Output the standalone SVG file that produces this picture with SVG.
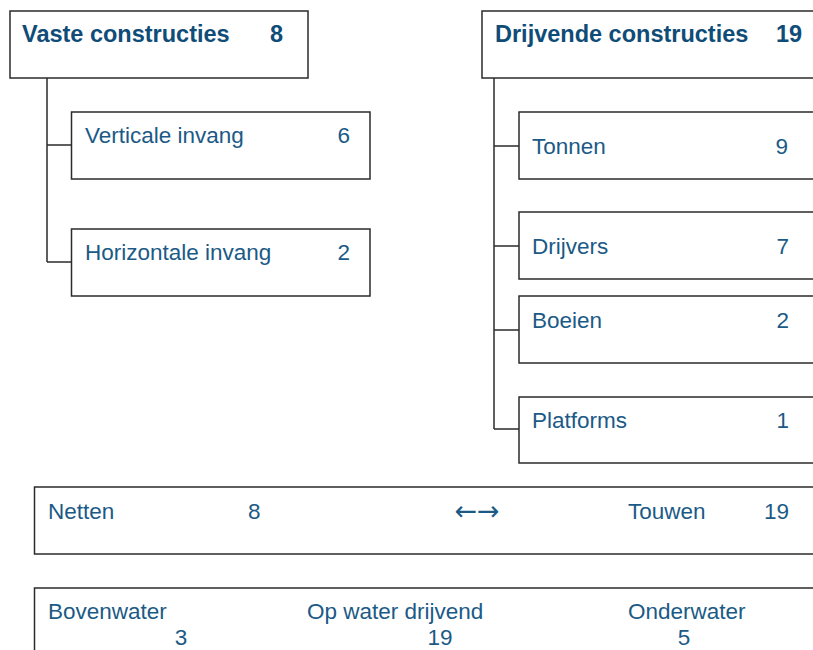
<svg xmlns="http://www.w3.org/2000/svg" width="813" height="650" viewBox="0 0 813 650">
  <style>
    .box { fill: #ffffff; stroke: #2b2b2b; stroke-width: 1.5; }
    .link { fill: none; stroke: #2b2b2b; stroke-width: 1.5; }
    .hd { font-family: "Liberation Sans", Arial, sans-serif; font-size: 23.5px; font-weight: bold; fill: #0f4c78; }
    .tx { font-family: "Liberation Sans", Arial, sans-serif; font-size: 22.5px; fill: #1b5a86; }
    .arrows { font-family: "DejaVu Sans", sans-serif; font-size: 27px; fill: #1b5a86; }
    .end { text-anchor: end; }
    .mid { text-anchor: middle; }
  </style>
  <rect width="813" height="650" fill="#ffffff"/>

  <!-- tree connectors -->
  <g id="connectors">
    <path class="link" d="M47,78 V262 M47,145 H71.5 M47,262 H71.5"/>
    <path class="link" d="M494,78 V429 M494,146 H519 M494,246 H519 M494,330 H519 M494,429 H519"/>
  </g>

  <!-- fixed constructions -->
  <g id="vaste">
    <rect class="box" x="10" y="11" width="298" height="67"/>
    <text class="hd" x="22" y="42">Vaste constructies</text>
    <text class="hd" x="270" y="42">8</text>
  </g>
  <g id="verticale">
    <rect class="box" x="71.5" y="112" width="298.5" height="67"/>
    <text class="tx" x="85" y="143">Verticale invang</text>
    <text class="tx end" x="350" y="143">6</text>
  </g>
  <g id="horizontale">
    <rect class="box" x="71.5" y="229" width="298.5" height="67"/>
    <text class="tx" x="85" y="260">Horizontale invang</text>
    <text class="tx end" x="350" y="260">2</text>
  </g>

  <!-- floating constructions -->
  <g id="drijvende">
    <rect class="box" x="482" y="11" width="360" height="67"/>
    <text class="hd" x="495" y="42">Drijvende constructies</text>
    <text class="hd" x="776" y="42">19</text>
  </g>
  <g id="tonnen">
    <rect class="box" x="519" y="112" width="320" height="67"/>
    <text class="tx" x="532" y="154">Tonnen</text>
    <text class="tx end" x="788" y="154">9</text>
  </g>
  <g id="drijvers">
    <rect class="box" x="519" y="212" width="320" height="67"/>
    <text class="tx" x="532" y="254">Drijvers</text>
    <text class="tx end" x="789" y="254">7</text>
  </g>
  <g id="boeien">
    <rect class="box" x="519" y="296" width="320" height="67"/>
    <text class="tx" x="532" y="328">Boeien</text>
    <text class="tx end" x="789" y="328">2</text>
  </g>
  <g id="platforms">
    <rect class="box" x="519" y="397" width="320" height="66"/>
    <text class="tx" x="532" y="428">Platforms</text>
    <text class="tx end" x="789" y="428">1</text>
  </g>

  <!-- nets and ropes -->
  <g id="netten-touwen">
    <rect class="box" x="34.5" y="487" width="800" height="67"/>
    <text class="tx" x="48" y="519">Netten</text>
    <text class="tx" x="248" y="519">8</text>
    <text class="arrows mid" x="477" y="520">←→</text>
    <text class="tx" x="628" y="519">Touwen</text>
    <text class="tx" x="764" y="519">19</text>
  </g>

  <!-- water position -->
  <g id="waterpositie">
    <rect class="box" x="34.5" y="588" width="800" height="100"/>
    <text class="tx" x="48" y="619">Bovenwater</text>
    <text class="tx mid" x="181" y="645">3</text>
    <text class="tx" x="307" y="619">Op water drijvend</text>
    <text class="tx mid" x="440" y="645">19</text>
    <text class="tx" x="628" y="619">Onderwater</text>
    <text class="tx mid" x="684" y="645">5</text>
  </g>
</svg>
